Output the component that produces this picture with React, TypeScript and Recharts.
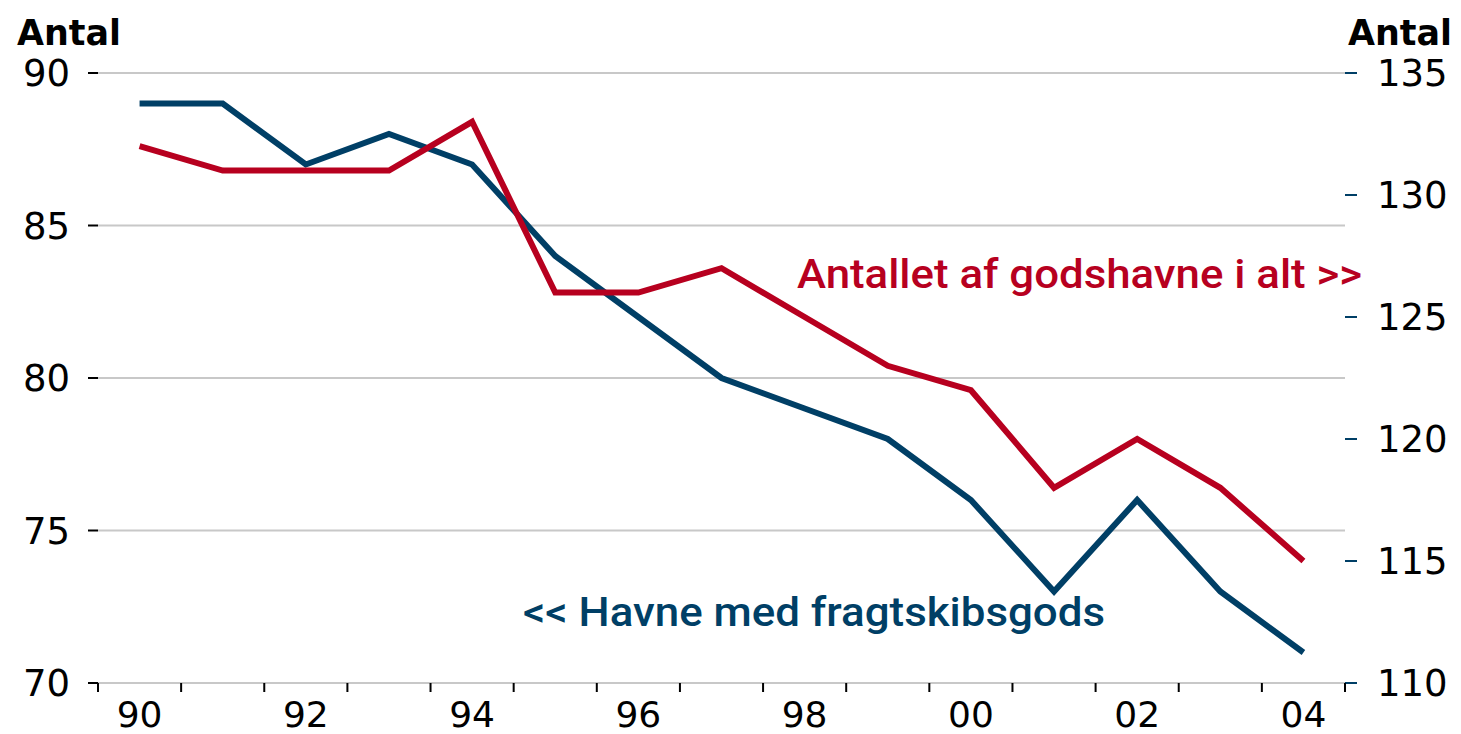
import React from "react";
import { LineChart, Line, XAxis, YAxis, CartesianGrid } from "recharts";

// År (1990-2004), vist som to cifre
const years = ["90", "91", "92", "93", "94", "95", "96", "97", "98", "99", "00", "01", "02", "03", "04"];
// venstre akse: havne med fragtskibsgods
const havneMedFragtskibsgods = [89, 89, 87, 88, 87, 84, 82, 80, 79, 78, 76, 73, 76, 73, 71];
// højre akse: antallet af godshavne i alt
const godshavneIAlt = [132, 131, 131, 131, 133, 126, 126, 127, 125, 123, 122, 118, 120, 118, 115];

const leftTicks = [70, 75, 80, 85, 90];
const rightTicks = [110, 115, 120, 125, 130, 135];
const labelledYears = ["90", "92", "94", "96", "98", "00", "02", "04"];

const RED = "#b7001f";
const BLUE = "#003f66";
const GRID = "#c8c8c8";
const TICK_FONT = "'DejaVu Sans', sans-serif";

const data = years.map((year, i) => ({
  pos: i,
  year,
  fragt: havneMedFragtskibsgods[i],
  ialt: godshavneIAlt[i],
}));

// tick lines sit between the years, labels at every other year
const boundaryTicks = [...years.map((_, i) => i - 0.5), years.length - 0.5];
const labelTicks = years.map((y, i) => (labelledYears.includes(y) ? i : -1)).filter((i) => i >= 0);
const xTicks = [...boundaryTicks, ...labelTicks];

function XTick(props: any) {
  const { x, y, payload } = props;
  const v = payload.value as number;
  if (!Number.isInteger(v)) {
    return <line x1={x} x2={x} y1={y - 9} y2={y} stroke="#000" strokeWidth={2} />;
  }
  return (
    <text x={x} y={y} dy={35} textAnchor="middle" fill="#000" fontSize={36} fontFamily={TICK_FONT}>
      {years[v]}
    </text>
  );
}

export default function App() {
  return (
    <div style={{ position: "absolute", left: 0, top: 0, width: 1461, height: 734, background: "#fff" }}>
      <LineChart width={1461} height={734} data={data} margin={{ top: 73, right: 0, left: 8, bottom: 0 }}>
        <CartesianGrid yAxisId="left" vertical={false} stroke={GRID} strokeWidth={2} />
        <XAxis
          dataKey="pos"
          type="number"
          domain={[-0.5, years.length - 0.5]}
          ticks={xTicks}
          interval={0}
          height={51}
          tickLine={false}
          tickSize={9}
          tickMargin={0}
          axisLine={{ stroke: GRID, strokeWidth: 2 }}
          tick={<XTick />}
        />
        <YAxis
          yAxisId="left"
          orientation="left"
          width={90}
          domain={[70, 90]}
          ticks={leftTicks}
          interval={0}
          axisLine={false}
          tickLine={{ stroke: "#000", strokeWidth: 2 }}
          tickSize={10}
          tickMargin={18}
          tick={{ fill: "#000", fontSize: 37, fontFamily: TICK_FONT }}
        />
        <YAxis
          yAxisId="right"
          orientation="right"
          width={116}
          domain={[110, 135]}
          ticks={rightTicks}
          interval={0}
          axisLine={false}
          tickLine={{ stroke: BLUE, strokeWidth: 2 }}
          tickSize={12}
          tickMargin={20}
          tick={{ fill: "#000", fontSize: 37, fontFamily: TICK_FONT }}
        />
        <Line
          yAxisId="left"
          type="linear"
          dataKey="fragt"
          stroke={BLUE}
          strokeWidth={6}
          dot={false}
          isAnimationActive={false}
        />
        <Line
          yAxisId="right"
          type="linear"
          dataKey="ialt"
          stroke={RED}
          strokeWidth={6}
          dot={false}
          isAnimationActive={false}
        />
      </LineChart>
      <svg
        width={1461}
        height={734}
        style={{ position: "absolute", left: 0, top: 0, pointerEvents: "none" }}
      >
        <g fontFamily="'DejaVu Sans', sans-serif" fontWeight="bold" fontSize={36} fill="#000">
          <text x={17} y={45} textLength={104} lengthAdjust="spacingAndGlyphs">Antal</text>
          <text x={1348} y={45} textLength={104} lengthAdjust="spacingAndGlyphs">Antal</text>
        </g>
        <g fontFamily="Roboto, sans-serif" fontWeight={500} fontSize={40}>
          <text x={797} y={288} fill={RED} textLength={565} lengthAdjust="spacingAndGlyphs">
            Antallet af godshavne i alt &gt;&gt;
          </text>
          <text x={523} y={626} fill={BLUE} textLength={582} lengthAdjust="spacingAndGlyphs">
            &lt;&lt; Havne med fragtskibsgods
          </text>
        </g>
      </svg>
    </div>
  );
}
